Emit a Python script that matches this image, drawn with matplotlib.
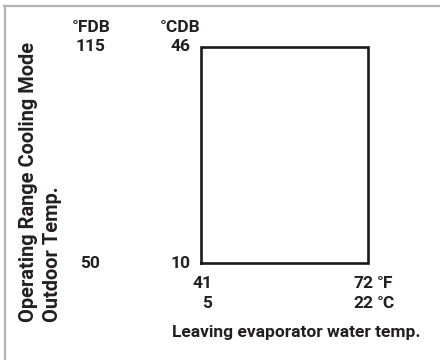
import matplotlib
matplotlib.use("Agg")
import matplotlib.pyplot as plt
from matplotlib.lines import Line2D
from matplotlib.transforms import offset_copy

# operating envelope, cooling mode
water_f = [41, 72]        # leaving evaporator water temp, °F
water_c = [5, 22]         # same in °C
outdoor_f = [50, 115]     # outdoor dry bulb, °F
outdoor_c = [10, 46]      # same in °C

W, H = 440, 360
TXT = "#231f20"
plt.rcParams["font.family"] = ["Roboto", "DejaVu Sans"]
plt.rcParams["font.weight"] = "bold"
FS = 12.5
FS_TITLE = 14.4


def fx(px):
    return px / W


def fy(py):
    return 1 - py / H


fig = plt.figure(figsize=(W / 100, H / 100), dpi=100)
fig.patch.set_facecolor("white")

# grey frame on top and left edge
fig.add_artist(Line2D([fx(4), 1], [fy(6), fy(6)], color="#b4b4b4", lw=1.6))
fig.add_artist(Line2D([fx(5), fx(5)], [fy(6), 0], color="#b4b4b4", lw=1.6))

ax = fig.add_axes([fx(201), fy(263), fx(368) - fx(201), fy(47) - fy(263)])
ax.set_xlim(water_f)
ax.set_ylim(outdoor_f)
ax.axis("off")

x0, x1 = water_f
y0, y1 = outdoor_f
ax.plot([x0, x1, x1, x0, x0], [y0, y0, y1, y1, y0], color="#1a1a1a",
        lw=1.9, solid_joinstyle="miter", clip_on=False)

# y-axis value columns (°F and °C)
for vf, vc in zip(outdoor_f, outdoor_c):
    ypix = ax.transData.transform((x0, vf))[1]
    yfig = fig.transFigure.inverted().transform((0, ypix))[1]
    fig.text(fx(90), yfig, str(vf), ha="center", va="center", fontsize=FS, color=TXT)
    fig.text(fx(181), yfig, str(vc), ha="center", va="center", fontsize=FS, color=TXT)

fig.text(fx(91), fy(27), "°FDB", ha="center", va="center", fontsize=FS, color=TXT)
fig.text(fx(180), fy(27), "°CDB", ha="center", va="center", fontsize=FS, color=TXT)

# x-axis values under the box
tr = ax.get_xaxis_transform()
shift_f = [2, -5]
shift_c = [6, -5]
for vf, vc, sf, sc in zip(water_f, water_c, shift_f, shift_c):
    ax.text(vf, 0, str(vf), transform=offset_copy(tr, fig, x=sf, y=-21, units="dots"),
            ha="center", va="center", fontsize=FS, color=TXT, clip_on=False)
    ax.text(vf, 0, str(vc), transform=offset_copy(tr, fig, x=sc, y=-41, units="dots"),
            ha="center", va="center", fontsize=FS, color=TXT, clip_on=False)

ax.text(x1, 0, "°F", transform=offset_copy(tr, fig, x=9, y=-21, units="dots"),
        ha="left", va="center", fontsize=FS, color=TXT, clip_on=False)
ax.text(x1, 0, "°C", transform=offset_copy(tr, fig, x=9, y=-41, units="dots"),
        ha="left", va="center", fontsize=FS, color=TXT, clip_on=False)

fig.text(fx(172), fy(332), "Leaving evaporator water temp.", ha="left", va="center",
         fontsize=FS, color=TXT)

# rotated axis title
fig.text(fx(29), fy(322), "Operating Range Cooling Mode", rotation=90,
         ha="center", va="bottom", fontsize=FS_TITLE, color=TXT)
fig.text(fx(53), fy(322), "Outdoor Temp.", rotation=90,
         ha="center", va="bottom", fontsize=FS_TITLE, color=TXT)

fig.savefig("out.png", dpi=100)
